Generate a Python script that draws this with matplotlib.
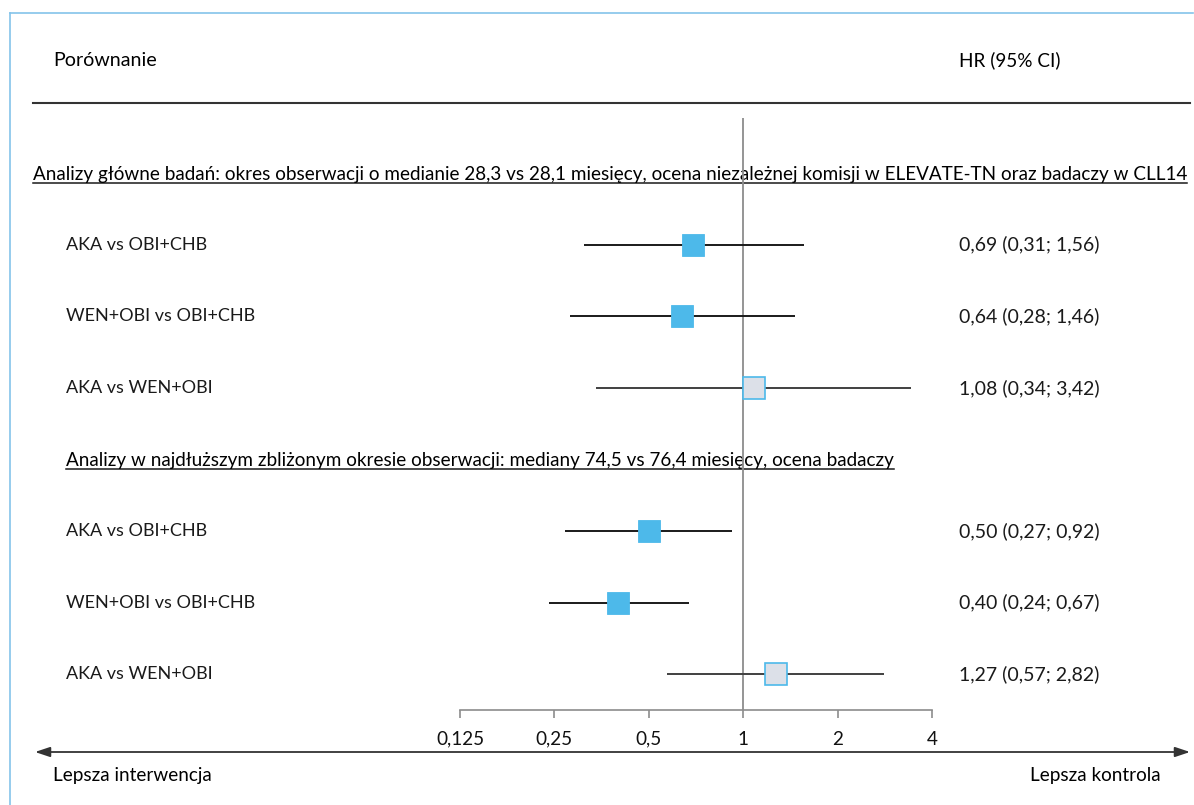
import matplotlib
matplotlib.use("Agg")
import matplotlib.pyplot as plt

plt.rcParams["font.family"] = ["Lato", "DejaVu Sans"]

# ---- data -------------------------------------------------------------
section_titles = [
    "Analizy główne badań: okres obserwacji o medianie 28,3 vs 28,1 miesięcy, "
    "ocena niezależnej komisji w ELEVATE-TN oraz badaczy w CLL14",
    "Analizy w najdłuższym zbliżonym okresie obserwacji: mediany 74,5 vs 76,4 "
    "miesięcy, ocena badaczy",
]
comparisons = ["AKA vs OBI+CHB", "WEN+OBI vs OBI+CHB", "AKA vs WEN+OBI"]

hr_main = [0.69, 0.64, 1.08]
lo_main = [0.31, 0.28, 0.34]
hi_main = [1.56, 1.46, 3.42]

hr_long = [0.50, 0.40, 1.27]
lo_long = [0.27, 0.24, 0.57]
hi_long = [0.92, 0.67, 2.82]

# head-to-head comparison drawn with a hollow grey marker
indirect = [False, False, True]

tick_values = [0.125, 0.25, 0.5, 1, 2, 4]
tick_labels = ["0,125", "0,25", "0,5", "1", "2", "4"]

# ---- layout -----------------------------------------------------------
W, H = 1194, 805
FS = 13.6
FS_LABEL = 13
FS_VALUE = 14
BLUE = "#4DB9EA"
GREY_FILL = "#DCE0E8"
AXIS_GREY = "#8C8C8C"
FRAME = "#84C3EA"

fig = plt.figure(figsize=(W / 100, H / 100), dpi=100)
bg = fig.add_axes([0, 0, 1, 1])
bg.set_xlim(0, W)
bg.set_ylim(H, 0)
bg.axis("off")

# forest panel on a log2 scale
ax_top, ax_bot, ax_left, ax_right = 118, 710, 460, 932
ax = fig.add_axes([ax_left / W, (H - ax_bot) / H,
                   (ax_right - ax_left) / W, (ax_bot - ax_top) / H])
ax.set_xscale("log", base=2)
ax.set_xlim(tick_values[0], tick_values[-1])
row0, row_step = 173, 71.6
ax.set_ylim((ax_bot - row0) / row_step, (ax_top - row0) / row_step)
ax.patch.set_alpha(0)
for s in ("top", "left", "right"):
    ax.spines[s].set_visible(False)
ax.spines["bottom"].set_color(AXIS_GREY)
ax.spines["bottom"].set_linewidth(1.2)
ax.set_yticks([])
ax.xaxis.set_major_locator(matplotlib.ticker.FixedLocator(tick_values))
ax.xaxis.set_major_formatter(matplotlib.ticker.FixedFormatter(tick_labels))
ax.xaxis.set_minor_locator(matplotlib.ticker.NullLocator())
ax.tick_params(axis="x", direction="out", length=6, width=1.2,
               color=AXIS_GREY, labelsize=FS, pad=9, labelcolor="#111111")
ax.axvline(1, color=AXIS_GREY, lw=1.3, zorder=1)

def fmt(v):
    return f"{v:.2f}".replace(".", ",")

def draw_group(first_row, hrs, los, his):
    for k, (name, hr, lo, hi, ind) in enumerate(
            zip(comparisons, hrs, los, his, indirect)):
        r = first_row + k
        ax.hlines(r, lo, hi, color="#1A1A1A" if not ind else "#404040",
                  lw=1.4, zorder=2)
        ax.plot(hr, r, marker="s", ms=15.8,
                mfc=GREY_FILL if ind else BLUE, mec=BLUE,
                mew=1.2 if ind else 0.6, zorder=3, clip_on=False)
        y = row0 + r * row_step
        bg.text(66, y, name, fontsize=FS_LABEL, va="center", ha="left",
                color="#1A1A1A")
        bg.text(959, y, f"{fmt(hr)} ({fmt(lo)}; {fmt(hi)})",
                fontsize=FS_VALUE, va="center", ha="left", color="#1A1A1A")

draw_group(1, hr_main, lo_main, hi_main)
draw_group(5, hr_long, lo_long, hi_long)

# column headers and rule
bg.text(53, 60, "Porównanie", fontsize=FS + 0.5, va="center", ha="left")
bg.text(959, 60, "HR (95% CI)", fontsize=FS, va="center", ha="left")
bg.plot([33, 1190], [103, 103], color="#333333", lw=1.5)

# underlined section titles
titles = []
for title, x, r in zip(section_titles, [33, 66], [0, 4]):
    base = row0 + r * row_step + 7
    t = bg.text(x, base, title, fontsize=FS, va="baseline", ha="left")
    titles.append((t, base))

fig.canvas.draw()
renderer = fig.canvas.get_renderer()
for t, base in titles:
    bb = t.get_window_extent(renderer)
    bg.plot([bb.x0, bb.x1], [base + 3, base + 3], color="#1A1A1A", lw=1.1)

# direction arrow
bg.annotate("", xy=(35, 752), xytext=(1190, 752),
            arrowprops=dict(arrowstyle="<|-|>,head_length=0.9,head_width=0.3",
                            color="#333333", lw=1.3, shrinkA=0, shrinkB=0))
bg.text(53, 775, "Lepsza interwencja", fontsize=FS, va="center", ha="left")
bg.text(1161, 775, "Lepsza kontrola", fontsize=FS, va="center", ha="right")

# frame lines
bg.plot([10, 10], [13, H], color=FRAME, lw=1.2)
bg.plot([10, 1193], [13, 13], color=FRAME, lw=1.2)

fig.savefig("out.png", dpi=100)
